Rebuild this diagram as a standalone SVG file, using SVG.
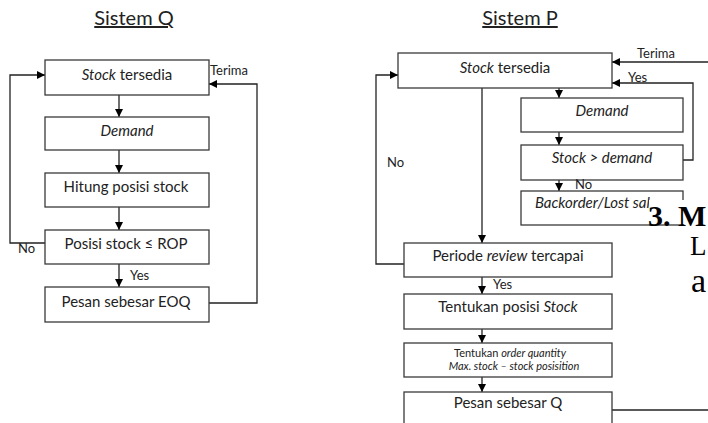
<svg xmlns="http://www.w3.org/2000/svg" width="708" height="423" viewBox="0 0 708 423">
<defs>
<marker id="ah" viewBox="0 0 10 10" refX="10" refY="5" markerWidth="8" markerHeight="8" markerUnits="userSpaceOnUse" orient="auto">
<path d="M0,0 L10,5 L0,10 z" fill="#000"/>
</marker>
<style>
.box{fill:#fff;stroke:#3a3a3a;stroke-width:1.3}
.t{font-family:Lato,"Open Sans","Liberation Sans",sans-serif;font-size:15px;fill:#222;text-anchor:middle}
.s{font-family:Lato,"Open Sans","Liberation Sans",sans-serif;font-size:13px;fill:#222}
.sm{font-family:Lato,"Open Sans","Liberation Sans",sans-serif;font-size:11px;fill:#222;text-anchor:middle}
.ttl{font-family:Lato,"Open Sans","Liberation Sans",sans-serif;font-size:20px;fill:#222;text-anchor:middle;text-decoration:underline}
.c{fill:none;stroke:#222;stroke-width:1.3}
.a{marker-end:url(#ah)}
.bg{font-family:"Liberation Serif","Times New Roman",serif;fill:#000}
</style>
</defs>
<rect width="708" height="423" fill="#fff"/>
<text class="ttl" x="134" y="25">Sistem Q</text>
<text class="ttl" x="520" y="25">Sistem P</text>

<g id="connectors">
<path class="c a" d="M119,95 V117"/>
<path class="c a" d="M119,150 V173"/>
<path class="c a" d="M119,207 V230"/>
<path class="c a" d="M119,264 V287"/>
<path class="c a" d="M45,243 H10 V75 H45"/>
<path class="c a" d="M209,303 H257 V84 H209"/>
<path class="c a" d="M708,62 H612"/>
<path class="c a" d="M683,160 H693 V83 H612"/>
<path class="c a" d="M559,88 V98"/>
<path class="c a" d="M559,132 V145"/>
<path class="c a" d="M559,180 V191"/>
<path class="c a" d="M482,88 V243"/>
<path class="c a" d="M404,264 H376 V75 H398"/>
<path class="c a" d="M482,277 V294"/>
<path class="c a" d="M482,329 V343"/>
<path class="c a" d="M482,377 V392"/>
<path class="c" d="M612,410 H708"/>
</g>

<g id="q1"><rect class="box" x="45" y="60" width="164" height="35"/><text class="t" x="127" y="80"><tspan font-style="italic">Stock</tspan> tersedia</text></g>
<g id="q2"><rect class="box" x="45" y="117" width="164" height="33"/><text class="t" x="127" y="136" font-style="italic">Demand</text></g>
<g id="q3"><rect class="box" x="45" y="173" width="164" height="34"/><text class="t" x="126" y="192">Hitung posisi stock</text></g>
<g id="q4"><rect class="box" x="45" y="230" width="164" height="34"/><text class="t" x="126" y="249">Posisi stock ≤ ROP</text></g>
<g id="q5"><rect class="box" x="45" y="287" width="164" height="35"/><text class="t" x="126" y="307">Pesan sebesar EOQ</text></g>

<text class="s" x="18" y="253">No</text>
<text class="s" x="130" y="280">Yes</text>
<text class="s" x="210" y="75">Terima</text>

<g id="p1"><rect class="box" x="398" y="53" width="214" height="35"/><text class="t" x="505" y="73"><tspan font-style="italic">Stock</tspan> tersedia</text></g>
<g id="p2"><rect class="box" x="521" y="98" width="162" height="34"/><text class="t" x="602" y="116" font-style="italic">Demand</text></g>
<g id="p3"><rect class="box" x="521" y="145" width="162" height="35"/><text class="t" x="602" y="163" font-style="italic">Stock &gt; demand</text></g>
<g id="p4"><rect class="box" x="521" y="191" width="162" height="34"/><text class="t" x="596" y="208" font-style="italic">Backorder/Lost sale</text></g>
<g id="p5"><rect class="box" x="404" y="243" width="208" height="34"/><text class="t" x="508" y="261">Periode <tspan font-style="italic">review</tspan> tercapai</text></g>
<g id="p6"><rect class="box" x="404" y="294" width="208" height="35"/><text class="t" x="508" y="312">Tentukan posisi <tspan font-style="italic">Stock</tspan></text></g>
<g id="p7"><rect class="box" x="404" y="343" width="208" height="34"/><text class="sm" x="510" y="357">Tentukan <tspan font-style="italic">order quantity</tspan></text><text class="sm" x="514" y="370" font-style="italic">Max. stock – stock posisition</text></g>
<g id="p8"><rect class="box" x="404" y="392" width="208" height="40"/><text class="t" x="508" y="408">Pesan sebesar Q</text></g>

<text class="s" x="637" y="58">Terima</text>
<text class="s" x="628" y="82">Yes</text>
<text class="s" x="575" y="189">No</text>
<text class="s" x="387" y="167">No</text>
<text class="s" x="493" y="289">Yes</text>

<rect x="649" y="200" width="59" height="24" fill="#fff"/>
<text class="bg" x="648" y="226" font-size="30" font-weight="bold">3. M</text>
<text class="bg" x="690" y="255" font-size="27">L</text>
<text class="bg" x="691" y="292" font-size="34">a</text>
</svg>
